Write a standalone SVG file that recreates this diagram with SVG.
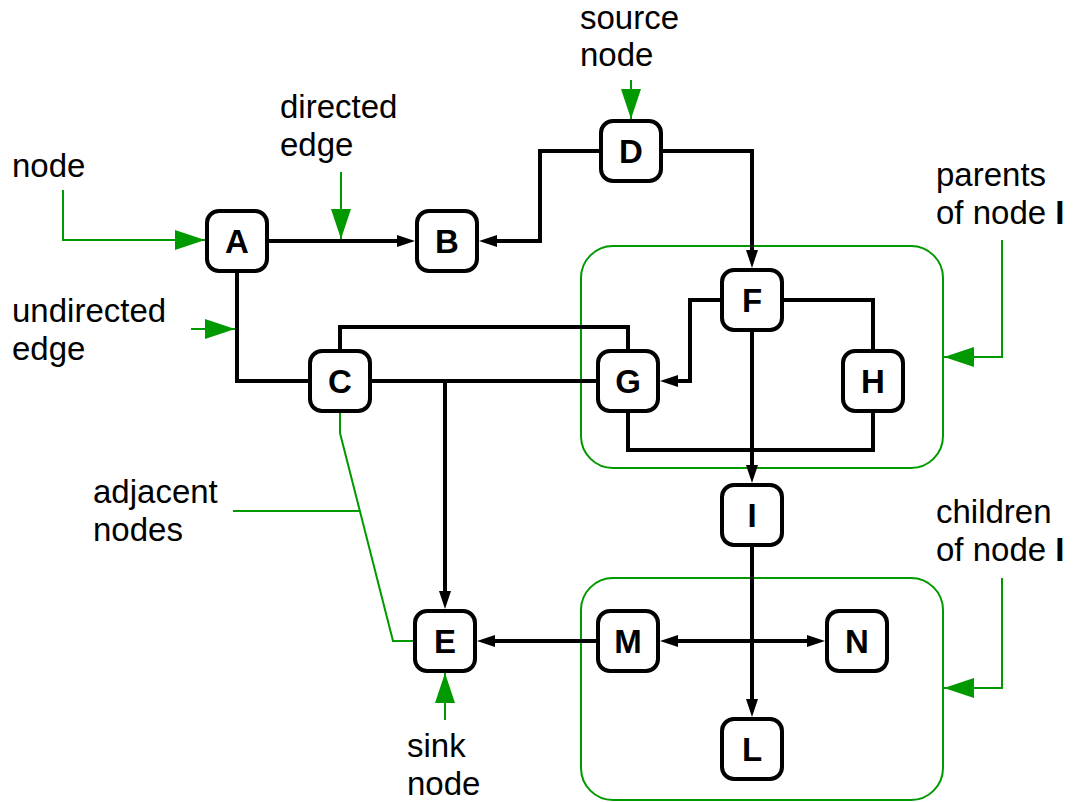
<svg xmlns="http://www.w3.org/2000/svg" width="1073" height="802" viewBox="0 0 1073 802">
<style>
.box{fill:#fff;stroke:#000;stroke-width:4}
.lbl{font-family:"Liberation Sans",Arial,sans-serif;font-weight:bold;font-size:33px;text-anchor:middle;fill:#000}
.ann{font-family:"Liberation Sans",Arial,sans-serif;font-size:33px;fill:#000}
.edge{fill:none;stroke:#000;stroke-width:4}
.gl{fill:none;stroke:#009900;stroke-width:2}
.grp{fill:none;stroke:#009900;stroke-width:2}
</style>
<defs>
<marker id="ah" viewBox="0 0 18 12" refX="12" refY="6" markerWidth="18" markerHeight="12" markerUnits="userSpaceOnUse" orient="auto-start-reverse"><path d="M0,0 L18,6 L0,12 z" fill="#000"/></marker>
<marker id="gh" viewBox="0 0 30 20" refX="30" refY="10" markerWidth="30" markerHeight="20" markerUnits="userSpaceOnUse" orient="auto"><path d="M0,0 L30,10 L0,20 z" fill="#009900"/></marker>
</defs>
<rect width="1073" height="802" fill="#fff"/>
<g id="groups">
<rect class="grp" x="581" y="246" width="362" height="222" rx="32"/>
<rect class="grp" x="581" y="578" width="362" height="222" rx="32"/>
</g>
<g id="connectors">
<path class="edge" d="M269,241 H409" marker-end="url(#ah)"/>
<path class="edge" d="M599,151 H540 V241 H485" marker-end="url(#ah)"/>
<path class="edge" d="M663,151 H752 V262" marker-end="url(#ah)"/>
<path class="edge" d="M237,273 V381 H308"/>
<path class="edge" d="M340,349 V327 H628 V349"/>
<path class="edge" d="M372,381 H596"/>
<path class="edge" d="M445,381 V603" marker-end="url(#ah)"/>
<path class="edge" d="M720,300 H690 V381 H666" marker-end="url(#ah)"/>
<path class="edge" d="M784,300 H873 V349"/>
<path class="edge" d="M628,413 V450 H873 V413"/>
<path class="edge" d="M752,332 V477" marker-end="url(#ah)"/>
<path class="edge" d="M752,547 V711" marker-end="url(#ah)"/>
<path class="edge" d="M666,641 H819" marker-start="url(#ah)" marker-end="url(#ah)"/>
<path class="edge" d="M596,641 H483" marker-end="url(#ah)"/>
</g>
<g id="annotations">
<path class="gl" d="M63,190 V240 H205" marker-end="url(#gh)"/>
<path class="gl" d="M341,172 V239" marker-end="url(#gh)"/>
<path class="gl" d="M191,329 H235" marker-end="url(#gh)"/>
<path class="gl" d="M631,80 V119" marker-end="url(#gh)"/>
<path class="gl" d="M445,720 V673" marker-end="url(#gh)"/>
<path class="gl" d="M1002,240 V357 H944" marker-end="url(#gh)"/>
<path class="gl" d="M1002,578 V688 H944" marker-end="url(#gh)"/>
<path class="gl" d="M340,413 V433 L393,641 H413"/>
<path class="gl" d="M233,511 H360"/>
<text class="ann" x="12" y="177">node</text>
<text class="ann" x="280" y="118">directed</text>
<text class="ann" x="280" y="156">edge</text>
<text class="ann" x="12" y="322">undirected</text>
<text class="ann" x="12" y="360">edge</text>
<text class="ann" x="580" y="29">source</text>
<text class="ann" x="580" y="66">node</text>
<text class="ann" x="93" y="503">adjacent</text>
<text class="ann" x="93" y="541">nodes</text>
<text class="ann" x="407" y="757">sink</text>
<text class="ann" x="407" y="795">node</text>
<text class="ann" x="936" y="186">parents</text>
<text class="ann" x="936" y="224">of node <tspan font-weight="bold">I</tspan></text>
<text class="ann" x="936" y="523">children</text>
<text class="ann" x="936" y="561">of node <tspan font-weight="bold">I</tspan></text>
</g>
<g id="node-A"><rect class="box" x="207" y="211" width="60" height="60" rx="12"/><text class="lbl" x="237" y="253">A</text></g>
<g id="node-B"><rect class="box" x="417" y="211" width="60" height="60" rx="12"/><text class="lbl" x="447" y="253">B</text></g>
<g id="node-D"><rect class="box" x="601" y="121" width="60" height="60" rx="12"/><text class="lbl" x="631" y="163">D</text></g>
<g id="node-F"><rect class="box" x="722" y="270" width="60" height="60" rx="12"/><text class="lbl" x="752" y="312">F</text></g>
<g id="node-G"><rect class="box" x="598" y="351" width="60" height="60" rx="12"/><text class="lbl" x="628" y="393">G</text></g>
<g id="node-H"><rect class="box" x="843" y="351" width="60" height="60" rx="12"/><text class="lbl" x="873" y="393">H</text></g>
<g id="node-C"><rect class="box" x="310" y="351" width="60" height="60" rx="12"/><text class="lbl" x="340" y="393">C</text></g>
<g id="node-I"><rect class="box" x="722" y="485" width="60" height="60" rx="12"/><text class="lbl" x="752" y="527">I</text></g>
<g id="node-E"><rect class="box" x="415" y="611" width="60" height="60" rx="12"/><text class="lbl" x="445" y="653">E</text></g>
<g id="node-M"><rect class="box" x="598" y="611" width="60" height="60" rx="12"/><text class="lbl" x="628" y="653">M</text></g>
<g id="node-N"><rect class="box" x="827" y="611" width="60" height="60" rx="12"/><text class="lbl" x="857" y="653">N</text></g>
<g id="node-L"><rect class="box" x="722" y="719" width="60" height="60" rx="12"/><text class="lbl" x="752" y="761">L</text></g>
</svg>
